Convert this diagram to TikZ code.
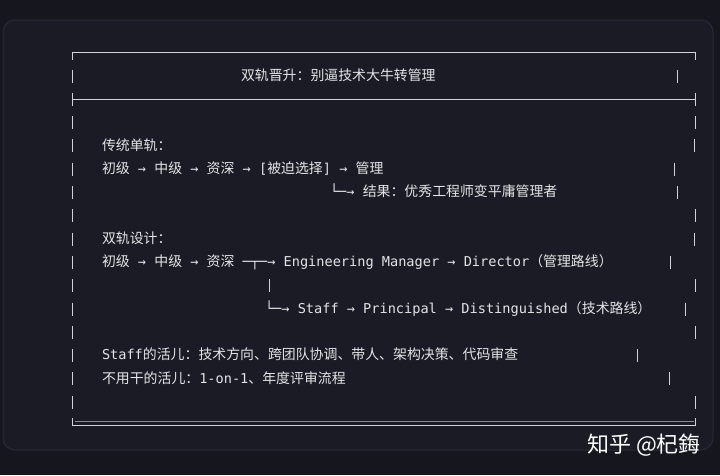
\documentclass[tikz,border=0pt]{standalone}
\usepackage{fontspec}
\newfontfamily\mono{DejaVu Sans Mono}
\newfontfamily\cjk{Noto Sans CJK SC}
\newcommand\C[1]{{\cjk\fontsize{13.9}{16}\selectfont #1}}
\definecolor{bgc}{HTML}{16161E}
\definecolor{panelc}{HTML}{1B1B25}
\definecolor{panelb}{HTML}{2A2A36}
\definecolor{txtc}{HTML}{E4E4E6}
\definecolor{linec}{HTML}{D2D3DA}
\begin{document}
\begin{tikzpicture}[x=1pt,y=-1pt,
  txt/.style={anchor=base west, inner sep=0pt, outer sep=0pt, text=txtc, font=\mono\fontsize{13.6}{16}\selectfont},
  bar/.style={draw=linec, line width=1.1pt},
  frame/.style={draw=linec, line width=1.3pt}]
\fill[bgc] (0,0) rectangle (720,475);
\useasboundingbox (0,0) rectangle (720,475);
\draw[fill=panelc, draw=panelb, line width=1pt, rounded corners=12pt] (3,20) rectangle (713,450);
% frame
\draw[frame] (72.5,59.5) -- (72.5,52.7) -- (695.5,52.7) -- (695.5,59.5);
\draw[frame] (72.5,93) -- (72.5,105.5);
\draw[frame] (72.5,99.3) -- (695.5,99.3);
\draw[frame] (695.5,93) -- (695.5,105.5);
\draw[frame] (72.5,418) -- (72.5,425.5) -- (695.5,425.5) -- (695.5,418);
\draw[draw=linec!60!panelc, line width=0.9pt] (75,421.8) -- (693.5,421.8);
% left bars
\foreach \k in {0,2,3,...,14} {\draw[bar] (72.5,{76+23.3*\k-6.5}) -- ++(0,13);}
% right bars and the branch bar
\foreach \x/\k in {677.5/0, 695.5/2, 694.5/3, 674.5/4, 677.5/5, 695.5/6, 694.5/7, 670.5/8, 695.5/9, 685.5/10, 695.5/11, 637.5/12, 669.5/13, 695.5/14, 269.5/9}
  {\draw[bar] (\x,{76+23.3*\k-6.5}) -- ++(0,13);}
% texts
\node[txt] (title) at (241,80.2) {\C{双轨晋升：别逼技术大牛转管理}};
\node[txt] (s1) at (102,150.1) {\C{传统单轨：}};
\node[txt] (s1a) at (102,173.4) {\C{初级} → \C{中级} → \C{资深} → [\C{被迫选择}] → \C{管理}};
\node[txt] (s1b) at (330,196.7) {└─→ \C{结果：优秀工程师变平庸管理者}};
\node[txt] (s2) at (102,243.3) {\C{双轨设计：}};
\node[txt] (s2a) at (102,266.6) {\C{初级} → \C{中级} → \C{资深} ─┬─→ Engineering Manager → Director\C{（管理路线）}};
\node[txt] (s2b) at (265,313.2) {└─→ Staff → Principal → Distinguished\C{（技术路线）}};
\node[txt] (n1) at (102,359.8) {Staff\C{的活儿：技术方向、跨团队协调、带人、架构决策、代码审查}};
\node[txt] (n2) at (102,383.1) {\C{不用干的活儿：}1-on-1\C{、年度评审流程}};
\node[anchor=west, inner sep=0pt, text=white, font=\cjk\fontsize{22}{24}\selectfont] (wm) at (587,445) {知乎 @杞鋂};
\end{tikzpicture}
\end{document}
